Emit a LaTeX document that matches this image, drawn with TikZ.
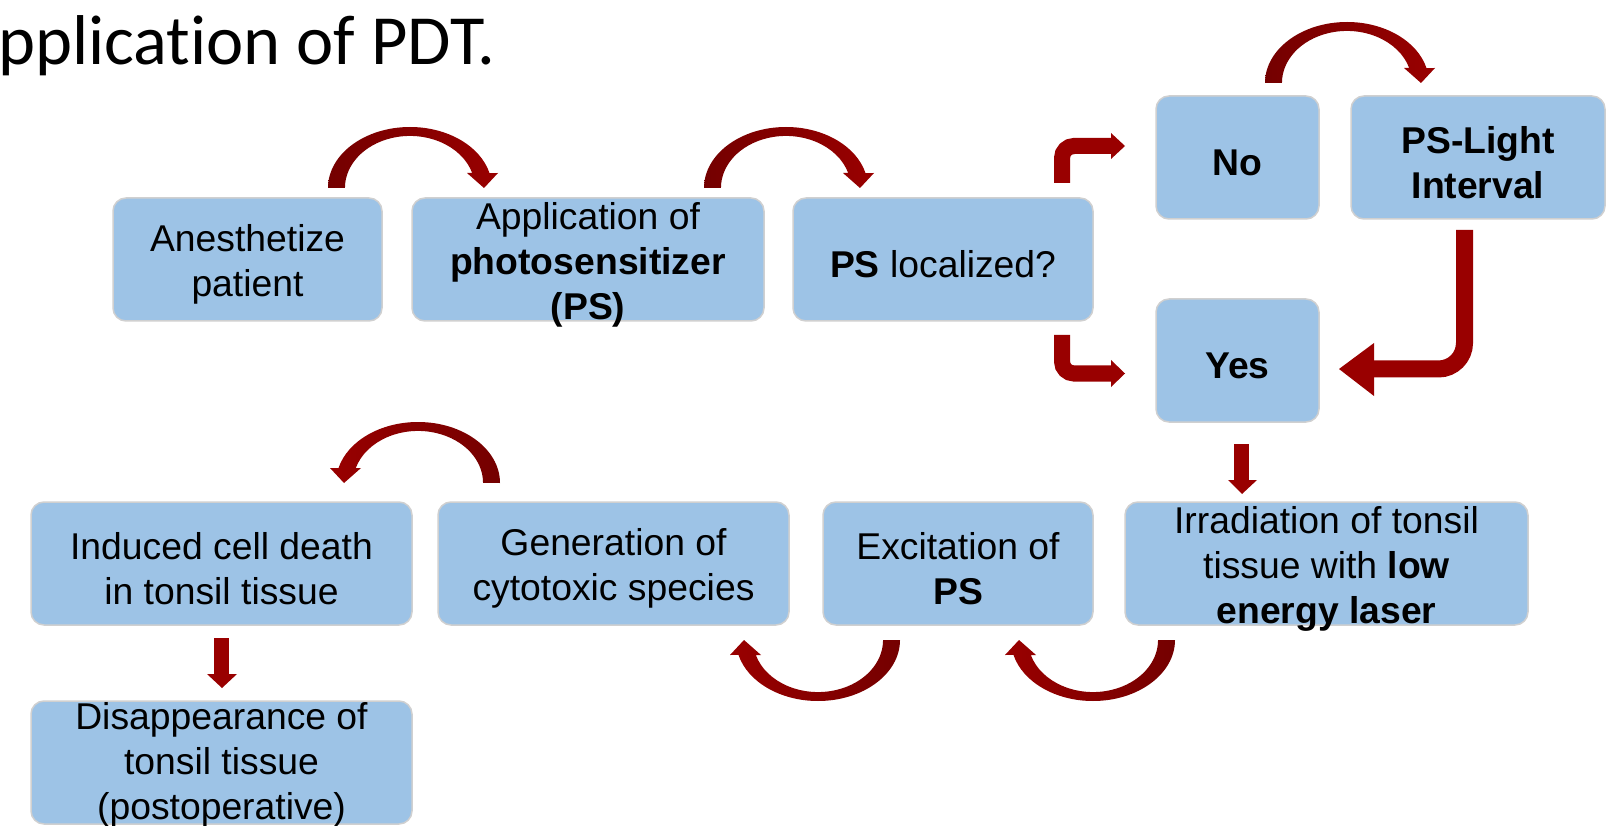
\documentclass[tikz,border=0pt]{standalone}
\usepackage{fontspec}
\setmainfont{Liberation Sans}
\newfontfamily\titlefont[Ligatures=NoCommon]{Carlito}
\definecolor{boxblue}{HTML}{9DC3E6}
\definecolor{boxline}{HTML}{D0D0D0}
\definecolor{arrred}{HTML}{990000}
\definecolor{arrdark}{HTML}{740000}
\tikzset{
  box/.style={fill=boxblue, draw=boxline, line width=1.5pt, rounded corners=13pt, minimum height=123pt, inner sep=0pt},
  lbl/.style={font=\fontsize{37.3}{45}\selectfont, align=center, inner sep=0pt, text=black, yshift=-5pt},
  bent/.style={draw=arrred, line width=16pt},
  head/.style={fill=arrred},
}
% #1 cx, #2 cy (image), #3 xscale, #4 yscale, #5 left colour, #6 right colour
\newcommand\carrow[6]{%
  \begin{scope}[shift={(#1,-#2)}, xscale=#3, yscale=#4]
    \shade[left color=#5, right color=#6]
      (-82,0) arc[start angle=180, end angle=14.2, x radius=82, y radius=61]
      -- (88,15) -- (74,0) -- (57,15) -- (62.2,15)
      arc[start angle=16.7, end angle=180, x radius=65, y radius=52] -- cycle;
  \end{scope}}
\begin{document}
\begin{tikzpicture}[x=1pt, y=1pt]
\useasboundingbox (0,0) rectangle (1607,-826);

% title
\node[anchor=base west, inner sep=0pt, font=\titlefont\fontsize{70.5}{80}\selectfont] (title) at (-2,-65) {pplication of PDT.};

% boxes
\node[box, minimum width=269pt] (anes) at (247.5,-259.5) {};
\node[box, minimum width=352pt] (app) at (588,-259.5) {};
\node[box, minimum width=300pt] (loc) at (943,-259.5) {};
\node[box, minimum width=163pt] (no) at (1237.5,-157.5) {};
\node[box, minimum width=254pt] (psl) at (1478,-157.5) {};
\node[box, minimum width=163pt] (yes) at (1237.5,-360.5) {};
\node[box, minimum width=403pt] (irr) at (1326.5,-563.5) {};
\node[box, minimum width=270pt] (exc) at (958,-563.5) {};
\node[box, minimum width=351pt] (gen) at (613.5,-563.5) {};
\node[box, minimum width=381pt] (ind) at (221.5,-563.5) {};
\node[box, minimum width=381pt] (dis) at (221.5,-762.5) {};

% labels
\node[lbl] at (anes) {Anesthetize\\patient};
\node[lbl] at (app) {Application of\\\textbf{photosensitizer}\\\textbf{(PS)}};
\node[lbl] at (loc) {\textbf{PS} localized?};
\node[lbl] at (no) {\textbf{No}};
\node[lbl] at (psl) {\textbf{PS-Light}\\\textbf{Interval}};
\node[lbl] at (yes) {\textbf{Yes}};
\node[lbl] at (irr) {Irradiation of tonsil\\tissue with \textbf{low}\\\textbf{energy laser}};
\node[lbl] at (exc) {Excitation of\\\textbf{PS}};
\node[lbl] at (gen) {Generation of\\cytotoxic species};
\node[lbl] at (ind) {Induced cell death\\in tonsil tissue};
\node[lbl, yshift=3pt] at (dis) {Disappearance of\\tonsil tissue\\(postoperative)};

% curved arrows
\carrow{410}{188}{1}{1}{arrdark}{arrred}
\carrow{786}{188}{1}{1}{arrdark}{arrred}
\carrow{1347}{83}{1}{1}{arrdark}{arrred}
\carrow{418}{483}{-1}{1}{arrred}{arrdark}
\carrow{818}{640}{-1}{-1}{arrred}{arrdark}
\carrow{1093}{640}{-1}{-1}{arrred}{arrdark}

% bent arrows
\coordinate (g1) at (1062,-183); \coordinate (g2) at (1112,-146);
\draw[bent, rounded corners=12pt] (g1) |- (g2);
\fill[head] (1111,-133) -- (1125,-146) -- (1111,-159) -- cycle;

\coordinate (h1) at (1062,-335); \coordinate (h2) at (1112,-373.5);
\draw[bent, rounded corners=12pt] (h1) |- (h2);
\fill[head] (1111,-360) -- (1125,-373.5) -- (1111,-387) -- cycle;

\coordinate (i1) at (1464.5,-230); \coordinate (i2) at (1373,-369);
\draw[bent, line width=17pt, rounded corners=26pt] (i1) |- (i2);
\fill[head] (1374,-343) -- (1339,-369) -- (1374,-396) -- cycle;

% straight down arrows
\coordinate (j1) at (1241.5,-444); \coordinate (j2) at (1241.5,-481);
\draw[draw=arrred, line width=15pt] (j1) -- (j2);
\fill[head] (1228,-480) -- (1257,-480) -- (1242,-494) -- cycle;

\coordinate (k1) at (221.5,-638); \coordinate (k2) at (221.5,-675);
\draw[draw=arrred, line width=15pt] (k1) -- (k2);
\fill[head] (207,-674) -- (237,-674) -- (222,-688) -- cycle;
\end{tikzpicture}
\end{document}
